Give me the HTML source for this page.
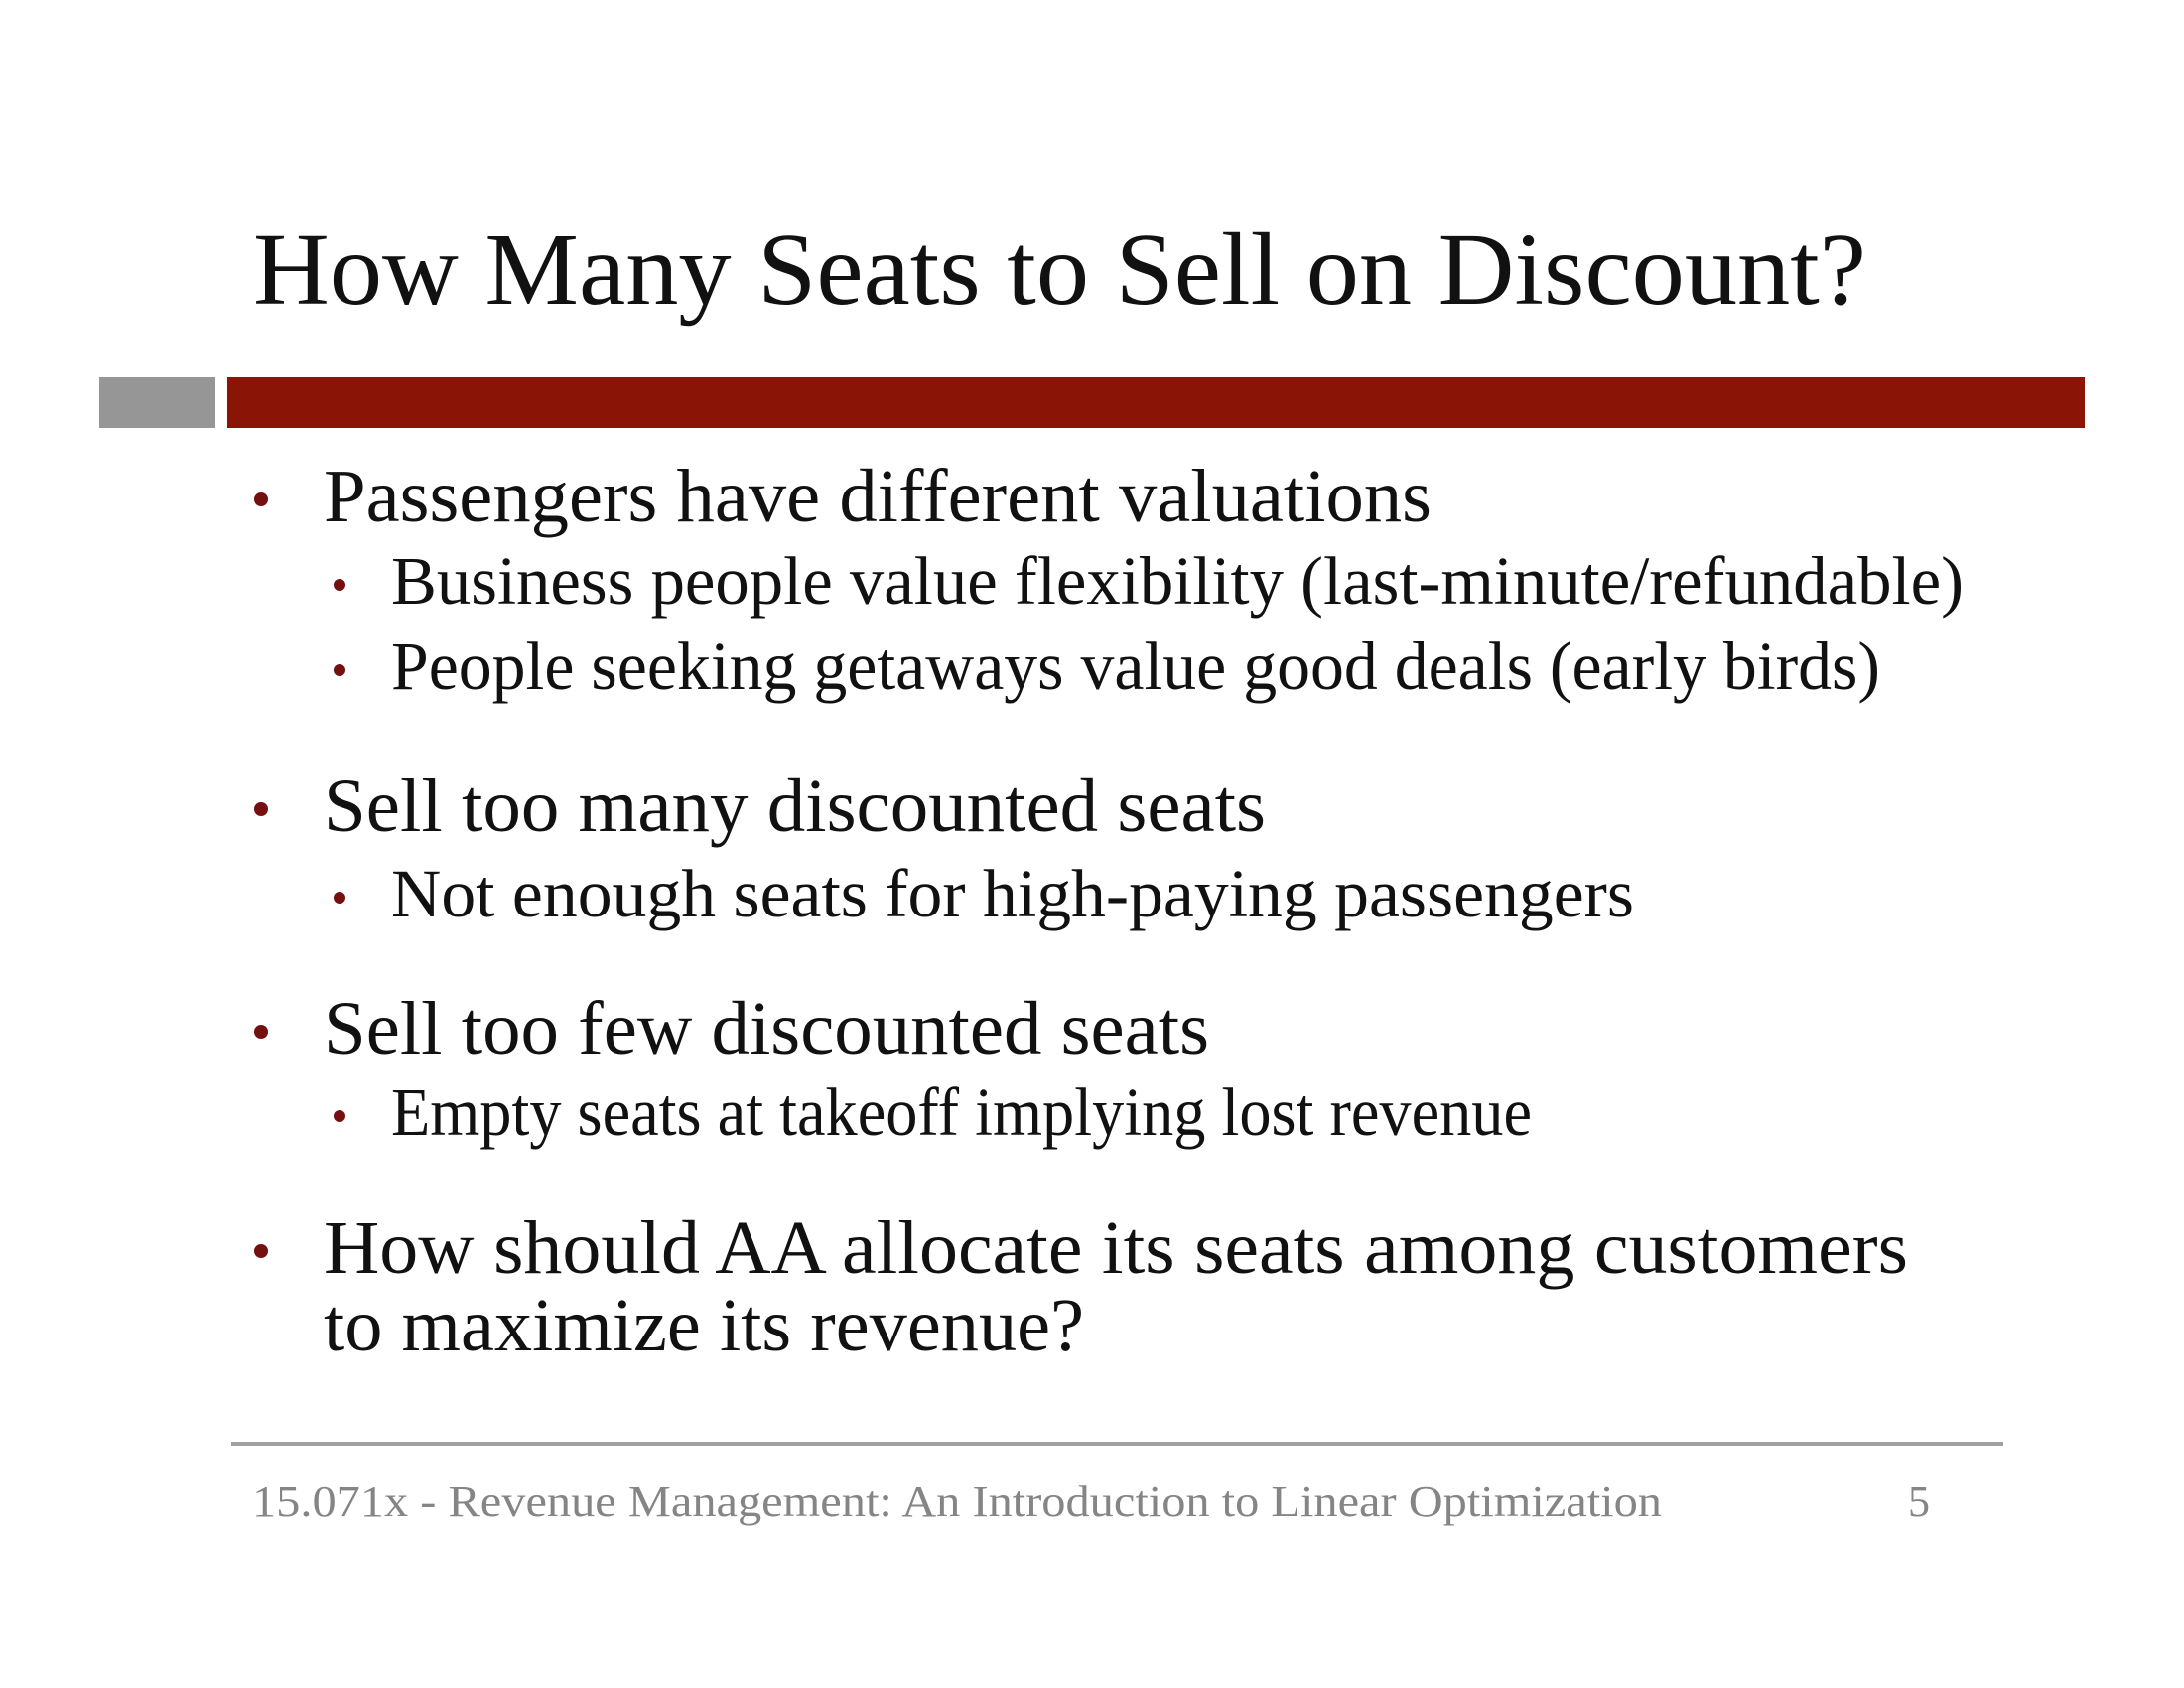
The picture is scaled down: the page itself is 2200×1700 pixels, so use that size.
<!DOCTYPE html>
<html><head><meta charset="utf-8"><style>
html,body{margin:0;padding:0;background:#fff;}
svg{display:block;}
text{font-family:"Liberation Serif",serif;}
</style></head><body>
<svg width="2200" height="1700" viewBox="0 0 2200 1700">
<rect x="0" y="0" width="2200" height="1700" fill="#fff"/>
<text x="255" y="306" font-size="104" fill="#111" textLength="1625" lengthAdjust="spacingAndGlyphs">How Many Seats to Sell on Discount?</text>
<rect x="100" y="380" width="117" height="51" fill="#969696"/>
<rect x="229" y="380" width="1871" height="51" fill="#8A1506"/>

<g fill="#111">
<circle cx="263" cy="503" r="7" fill="#741010"/>
<text x="326" y="525" font-size="76" textLength="1116" lengthAdjust="spacingAndGlyphs">Passengers have different valuations</text>
<circle cx="342" cy="589" r="6" fill="#741010"/>
<text x="394" y="608" font-size="69" textLength="1584" lengthAdjust="spacingAndGlyphs">Business people value flexibility (last-minute/refundable)</text>
<circle cx="342" cy="675" r="6" fill="#741010"/>
<text x="394" y="694" font-size="69" textLength="1500" lengthAdjust="spacingAndGlyphs">People seeking getaways value good deals (early birds)</text>

<circle cx="263" cy="815" r="7" fill="#741010"/>
<text x="326" y="837" font-size="76" textLength="949" lengthAdjust="spacingAndGlyphs">Sell too many discounted seats</text>
<circle cx="342" cy="904" r="6" fill="#741010"/>
<text x="394" y="923" font-size="69" textLength="1252" lengthAdjust="spacingAndGlyphs">Not enough seats for high-paying passengers</text>

<circle cx="263" cy="1039" r="7" fill="#741010"/>
<text x="326" y="1061" font-size="76" textLength="892" lengthAdjust="spacingAndGlyphs">Sell too few discounted seats</text>
<circle cx="342" cy="1124" r="6" fill="#741010"/>
<text x="394" y="1143" font-size="69" textLength="1149" lengthAdjust="spacingAndGlyphs">Empty seats at takeoff implying lost revenue</text>

<circle cx="263" cy="1260" r="7" fill="#741010"/>
<text x="326" y="1282" font-size="76" textLength="1596" lengthAdjust="spacingAndGlyphs">How should AA allocate its seats among customers</text>
<text x="326" y="1360" font-size="76" textLength="766" lengthAdjust="spacingAndGlyphs">to maximize its revenue?</text>
</g>

<rect x="233" y="1452" width="1785" height="4" fill="#a0a0a0"/>
<text x="254" y="1527" font-size="44" fill="#858585" textLength="1420" lengthAdjust="spacingAndGlyphs">15.071x - Revenue Management: An Introduction to Linear Optimization</text>
<text x="1922" y="1527" font-size="44" fill="#858585">5</text>
</svg>
</body></html>
